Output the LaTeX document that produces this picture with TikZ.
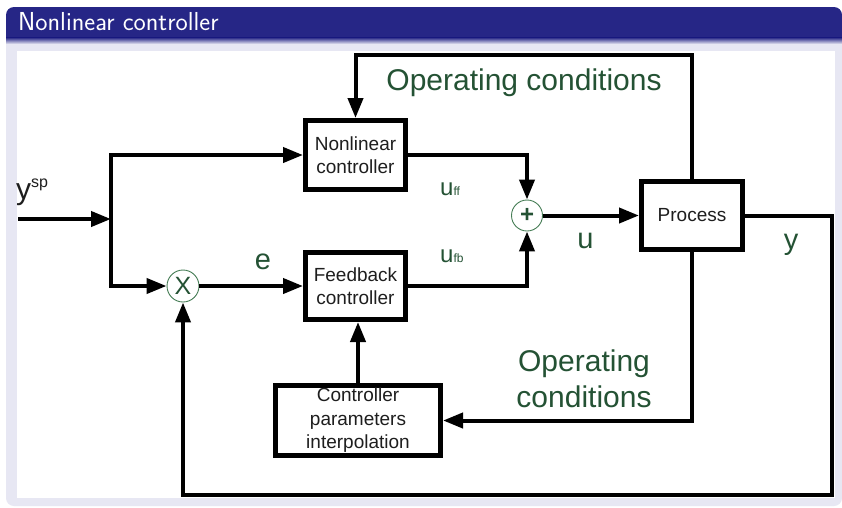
\documentclass[tikz,border=0pt]{standalone}
\usepackage{fontspec}
\setmainfont{Liberation Sans}
\usetikzlibrary{arrows.meta}
\definecolor{titleblue}{RGB}{38,38,134}
\definecolor{lav}{RGB}{231,231,243}
\definecolor{lblgreen}{RGB}{36,82,52}
\definecolor{circgreen}{RGB}{70,125,85}
\definecolor{boxtext}{RGB}{30,30,30}
\begin{document}
\begin{tikzpicture}[x=1pt,y=-1pt,
  conn/.style={line width=4pt, -{Triangle[length=20pt,width=15pt]}},
  blockbox/.style={draw, line width=5pt, rectangle, inner sep=0pt, align=center,
    font=\fontsize{19}{23.5}\selectfont, text=boxtext},
  junc/.style={circle, draw=circgreen, line width=0.9pt, fill=white, inner sep=0pt,
    minimum size=31pt, text=lblgreen},
  lbl/.style={text=lblgreen, font=\fontsize{30}{36}\selectfont, inner sep=0pt},
  sym/.style={text=lblgreen, font=\fontsize{29}{29}\selectfont, inner sep=0pt}
]
\useasboundingbox (0,0) rectangle (842,507);
\fill[white] (0,0) rectangle (842,507);
% slide frame
\fill[lav] (6,38) [rounded corners=8pt] -- (6,506) -- (842,506) [sharp corners] -- (842,38) -- cycle;
\fill[titleblue] (6,38) [rounded corners=8pt] -- (6,7) -- (842,7) [sharp corners] -- (842,38) -- cycle;
\shade[top color=titleblue, bottom color=lav] (6,37.5) rectangle (842,44);
\fill[white] (17,51) rectangle (835,498);
\node[anchor=base west, text=white, font=\sffamily\fontsize{26}{26}\selectfont, inner sep=0pt]
  (title) at (18,30.5) {Nonlinear controller};

% blocks
\node[blockbox, minimum width=100pt, minimum height=69pt] (nlc) at (355.5,155) {Nonlinear\\controller};
\node[blockbox, minimum width=100pt, minimum height=67pt] (fbc) at (355.5,286) {Feedback\\controller};
\node[blockbox, minimum width=101pt, minimum height=68pt] (proc) at (692,215.5) {Process};
\node[blockbox, minimum width=165pt, minimum height=70pt] (cpi) at (358,420.5) {Controller\\parameters\\interpolation};
\node[junc, font=\bfseries\fontsize{24}{24}\selectfont] (sum) at (527,215.5) {+};
\node[junc, minimum size=32pt, font=\fontsize{25}{25}\selectfont] (mult) at (183,286) {X};

% coordinates
\coordinate (in) at (18,219);
\coordinate (jn) at (111,219);
\coordinate (yr) at (832,215.5);
\coordinate (yb) at (832,495);
\coordinate (tr) at (692,55);

% connectors
\draw[conn] (in) -- (jn);
\draw[conn] (jn) |- (nlc.west);
\draw[conn] (jn) |- (mult.west);
\draw[conn] (mult) -- (fbc);
\draw[conn] (nlc.east) -| (sum.north);
\draw[conn] (fbc.east) -| (sum.south);
\draw[conn] (sum.east) -- (sum.east -| proc.west);
\draw[conn] (proc.east) -- (yr) -- (yb) -| (mult.south);
\draw[conn] (proc.north) -- (tr) -| (nlc.north);
\draw[conn] (proc.south) |- (cpi.east);
\draw[conn] (cpi.north) -- (cpi.north |- fbc.south);

% labels
\node[lbl, anchor=base] (opc1) at (524,90) {Operating conditions};
\node[lbl, anchor=north, align=center] (opc2) at (584,350) {Operating\\conditions};
\node[sym, anchor=base] (le) at (263,269) {e};
\node[sym, anchor=base] (lu) at (585.5,248) {u};
\node[sym, anchor=base] (ly) at (791,249) {y};
\node[sym, anchor=base west, font=\fontsize{24}{24}\selectfont] (luff) at (440,195) {u{\fontsize{12}{12}\selectfont ff}};
\node[sym, anchor=base west, font=\fontsize{24}{24}\selectfont] (lufb) at (440,262) {u{\fontsize{12}{12}\selectfont fb}};
\node[anchor=base west, inner sep=0pt, text=boxtext, font=\fontsize{30}{30}\selectfont]
  (lysp) at (16,199) {y\raisebox{12pt}{\fontsize{16}{16}\selectfont sp}};
\end{tikzpicture}
\end{document}
